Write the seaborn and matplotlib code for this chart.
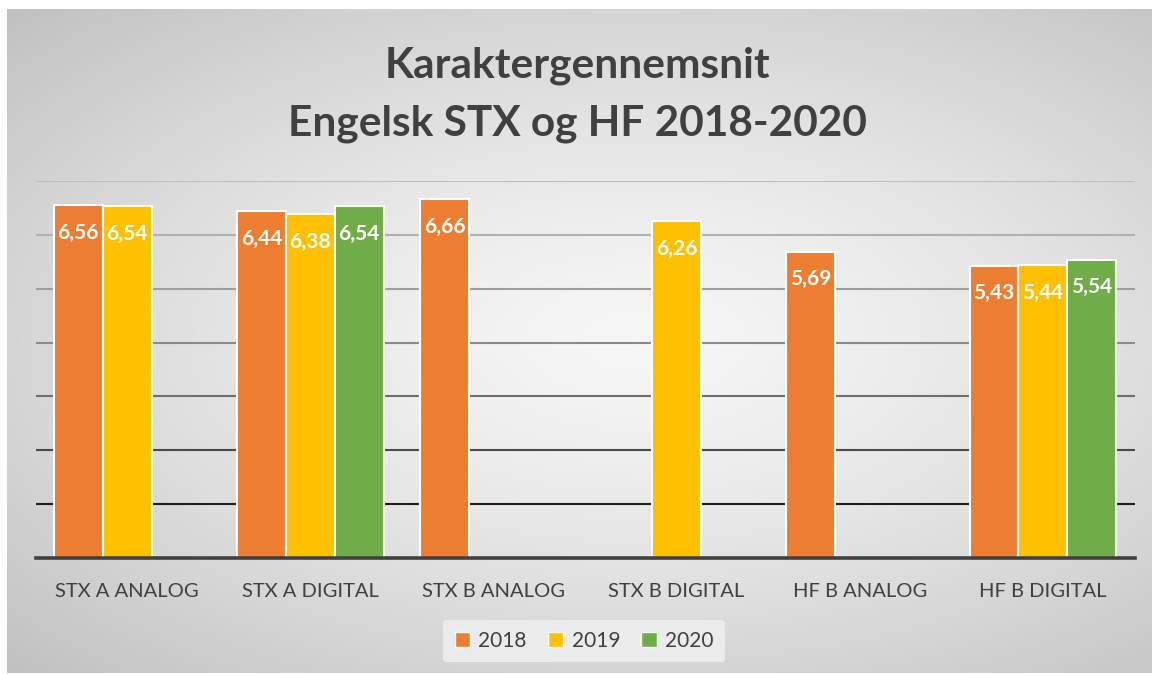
import numpy as np
import pandas as pd
import matplotlib
matplotlib.use("Agg")
import matplotlib.pyplot as plt
from matplotlib.patches import Patch
import seaborn as sns

categories = ["STX A ANALOG", "STX A DIGITAL", "STX B ANALOG",
              "STX B DIGITAL", "HF B ANALOG", "HF B DIGITAL"]
years = ["2018", "2019", "2020"]
v2018 = [6.56, 6.44, 6.66, np.nan, 5.69, 5.43]
v2019 = [6.54, 6.38, np.nan, 6.26, np.nan, 5.44]
v2020 = [np.nan, 6.54, np.nan, np.nan, np.nan, 5.54]
colors = ["#ED7D31", "#FFC000", "#70AD47"]

df = pd.DataFrame({
    "kategori": categories * 3,
    "år": [y for y in years for _ in categories],
    "karakter": v2018 + v2019 + v2020,
}).dropna()

sns.set_theme(style="white")
plt.rcParams["font.family"] = ["Lato", "DejaVu Sans"]

fig = plt.figure(figsize=(11.54, 6.75), dpi=100)
fig.patch.set_facecolor("white")

# gradient background of the chart area
bg = fig.add_axes([7 / 1154, 2 / 675, 1145 / 1154, 664 / 675])
yy, xx = np.mgrid[0:1:300j, 0:1:500j]
r = np.sqrt(((xx - 0.55) / 0.55) ** 2 + ((yy - 0.5) / 0.5) ** 2) / np.sqrt(2)
gray = np.clip(0.965 - 0.21 * r ** 1.4, 0, 1)
bg.imshow(np.dstack([gray, gray, gray]), aspect="auto", extent=[0, 1, 0, 1])
bg.set_axis_off()

ax = fig.add_axes([35.5 / 1154, 117 / 675, 1099 / 1154, 377 / 675])
ax.set_facecolor("none")
ax.set_zorder(2)

sns.barplot(data=df, x="kategori", y="karakter", hue="år", order=categories,
            hue_order=years, palette=colors, saturation=1, errorbar=None,
            width=0.8, edgecolor="white", linewidth=1.5, legend=False, ax=ax,
            zorder=3)

ax.set_xlim(-0.5, len(categories) - 0.5)
ax.set_ylim(0, 7)
ax.set_yticks([])
ax.set_xlabel("")
ax.set_ylabel("")

grid_colors = ["#1e1e1e", "#4a4a4a", "#6e6e6e", "#8a8a8a", "#9e9e9e", "#b0b0b0", "#bdbdbd"]
for i, c in enumerate(grid_colors):
    ax.axhline(i + 1, color=c, lw=1.5, zorder=1)

for s in ["top", "right", "left"]:
    ax.spines[s].set_visible(False)
ax.spines["bottom"].set_color("#404040")
ax.spines["bottom"].set_linewidth(2.6)
ax.spines["bottom"].set_zorder(4)

ax.tick_params(axis="x", length=0, pad=18, labelsize=14.5, labelcolor="#404040")

for bar in ax.patches:
    h = bar.get_height()
    if np.isnan(h) or h <= 0:
        continue
    ax.annotate(f"{h:.2f}".replace(".", ","),
                (bar.get_x() + bar.get_width() / 2, h),
                xytext=(0, -20), textcoords="offset points",
                ha="center", va="center", color="white",
                fontsize=15, fontweight="bold", zorder=5)

fig.text(0.5, (675 - 95) / 675, "Karaktergennemsnit\nEngelsk STX og HF 2018-2020",
         ha="center", va="center", fontsize=30.5, fontweight="bold",
         color="#404040", linespacing=1.62)

handles = [Patch(facecolor=c, edgecolor="white", linewidth=1) for c in colors]
leg = fig.legend(handles, years, loc="center", ncol=3,
                 bbox_to_anchor=(584 / 1154, (675 - 641) / 675),
                 frameon=True, fontsize=15, handlelength=0.75, handleheight=0.75,
                 handletextpad=0.4, columnspacing=1.0, borderpad=0.55)
leg.get_frame().set_facecolor("#eeeeee")
leg.get_frame().set_edgecolor("none")
leg.get_frame().set_alpha(0.9)
for t in leg.get_texts():
    t.set_color("#404040")

fig.savefig("out.png", dpi=100, facecolor="white")
